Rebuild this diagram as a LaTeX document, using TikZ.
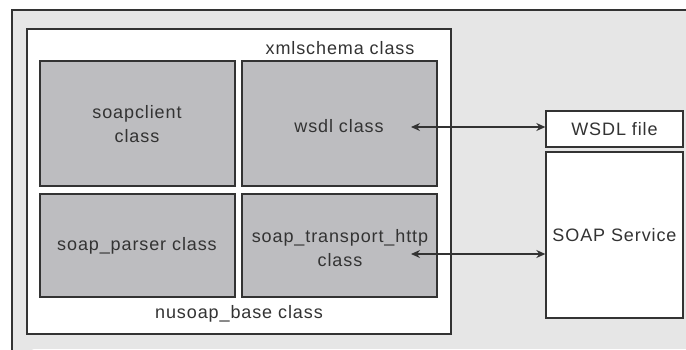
\documentclass[tikz,border=0pt]{standalone}
\usepackage{fontspec}
\setmainfont{Liberation Sans}[LetterSpace=5]
\usetikzlibrary{arrows.meta}
\definecolor{ln}{HTML}{333333}
\definecolor{txt}{HTML}{333333}
\definecolor{bg}{HTML}{E6E6E6}
\definecolor{cls}{HTML}{BDBDC0}
\tikzset{
  box/.style={draw=ln, line width=1.3pt, fill=white},
  clsbox/.style={draw=ln, line width=1.3pt, fill=cls},
  lbl/.style={text=txt, font=\fontsize{18}{24}\selectfont, align=center, inner sep=0pt},
  link/.style={draw=ln, line width=1.3pt, {Stealth[length=9pt,width=8pt]}-{Stealth[length=9pt,width=8pt]}}
}
\begin{document}
\begin{tikzpicture}[x=1pt,y=-1pt]
\useasboundingbox (0,0) rectangle (686,349);
\fill[white] (0,0) rectangle (686,349);
\draw[draw=ln, line width=1.3pt, fill=bg] (12,360) -- (12,10) -- (700,10);
\fill[bg] (12.65,10.65) rectangle (686,349);
\draw[box] (27,29) rectangle (451,334);
\draw[clsbox] (40,61) rectangle (235,186);
\draw[clsbox] (242,61) rectangle (437,186);
\draw[clsbox] (40,194) rectangle (235,297);
\draw[clsbox] (242,194) rectangle (437,297);
\node[lbl] (xml) at (340,48) {xmlschema class};
\node[lbl] (nub) at (239,314) {nusoap\_base class};
\node[lbl] (sc) at (137,124) {soapclient\\class};
\node[lbl] (wsdl) at (339,126) {wsdl class};
\node[lbl] (sp) at (137,246) {soap\_parser class};
\node[lbl] (sth) at (340,248) {soap\_transport\_http\\class};
\node[box, minimum width=137pt, minimum height=36pt, inner sep=0pt] (wf) at (614.5,129) {};
\node[lbl] at (wf) {WSDL file};
\node[box, minimum width=137pt, minimum height=166pt, inner sep=0pt] (ss) at (614.5,235) {};
\node[lbl] at (ss) {SOAP Service};
\coordinate (a1) at (411,127);
\coordinate (a2) at (411,254);
\draw[link] (a1) -- (a1 -| wf.west);
\draw[link] (a2) -- (a2 -| ss.west);
\end{tikzpicture}
\end{document}
